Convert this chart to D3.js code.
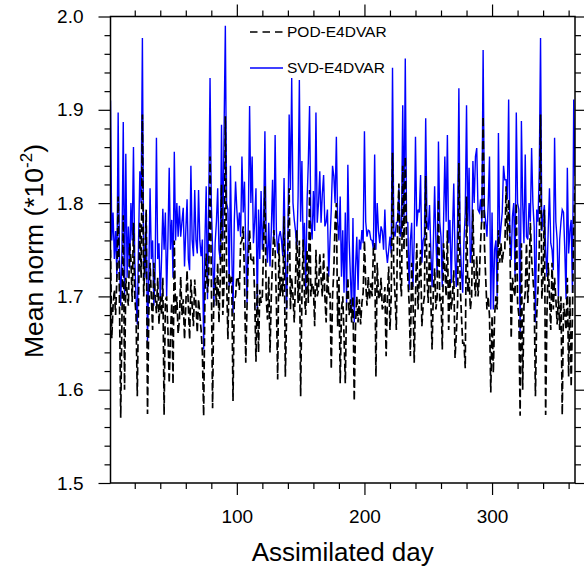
<!DOCTYPE html>
<html><head><meta charset="utf-8">
<script src="https://cdn.jsdelivr.net/npm/d3@7"></script>
<style>body{margin:0;background:#fff}svg{display:block}text{font-family:"Liberation Sans",Arial,Helvetica,sans-serif}</style>
</head><body>
<svg id="c" width="584" height="570"></svg>
<script>
const xTicksMajor = [100, 200, 300];
const yTicksMajor = [1.5, 1.6, 1.7, 1.8, 1.9, 2.0];
const seriesNames = ["POD-E4DVAR", "SVD-E4DVAR"];
const svd = [
1.91,1.76,1.79,1.74,1.77,1.72,1.897,1.74,1.69,1.75,1.887,1.70,1.853,1.72,1.775,1.73,1.80,1.76,1.86,1.74,
1.70,1.67,1.76,1.834,1.80,1.977,1.74,1.72,1.79,1.652,1.72,1.816,1.74,1.76,1.69,1.73,1.87,1.74,1.757,1.696,
1.74,1.794,1.75,1.79,1.70,1.76,1.838,1.75,1.782,1.72,1.855,1.76,1.80,1.764,1.797,1.764,1.78,1.795,1.732,1.77,
1.804,1.74,1.728,1.84,1.76,1.743,1.814,1.76,1.746,1.814,1.76,1.743,1.761,1.643,1.76,1.818,1.697,1.80,1.934,1.80,
1.75,1.69,1.757,1.78,1.816,1.75,1.739,1.884,1.76,1.879,1.99,1.80,1.793,1.71,1.84,1.75,1.682,1.78,1.823,1.793,
1.77,1.79,1.764,1.85,1.79,1.823,1.75,1.693,1.78,1.904,1.80,1.85,1.757,1.78,1.816,1.686,1.793,1.74,1.813,1.75,
1.78,1.877,1.76,1.736,1.779,1.732,1.77,1.825,1.757,1.873,1.77,1.746,1.764,1.77,1.76,1.743,1.827,1.74,1.686,1.757,
1.895,1.814,1.934,1.80,1.782,1.77,1.75,1.807,1.932,1.78,1.845,1.75,1.779,1.707,1.80,1.843,1.904,1.78,1.761,1.813,
1.77,1.897,1.779,1.80,1.834,1.779,1.81,1.83,1.775,1.78,1.793,1.721,1.76,1.793,1.84,1.829,1.80,1.871,1.779,1.76,
1.807,1.721,1.771,1.704,1.79,1.693,1.841,1.76,1.721,1.686,1.784,1.672,1.73,1.764,1.707,1.761,1.75,1.771,1.757,1.877,
1.78,1.764,1.771,1.77,1.761,1.76,1.75,1.852,1.75,1.80,1.77,1.757,1.775,1.77,1.75,1.793,1.75,1.736,1.75,1.764,
1.746,1.945,1.77,1.764,1.779,1.78,1.816,1.764,1.77,1.905,1.78,1.955,1.78,1.779,1.707,1.76,1.779,1.71,1.76,1.871,
1.775,1.793,1.79,1.83,1.736,1.76,1.764,1.891,1.78,1.771,1.798,1.75,1.71,1.757,1.818,1.76,1.721,1.866,1.78,1.764,
1.71,1.78,1.85,1.78,1.873,1.757,1.782,1.714,1.77,1.821,1.739,1.71,1.78,1.923,1.76,1.728,1.704,1.76,1.79,1.905,
1.775,1.838,1.736,1.75,1.845,1.80,1.85,1.859,1.793,1.79,1.804,1.779,1.964,1.793,1.78,1.764,1.80,1.85,1.686,1.79,
1.686,1.75,1.76,1.70,1.875,1.757,1.775,1.79,1.84,1.825,1.825,1.804,1.911,1.76,1.739,1.786,1.80,1.721,1.897,1.80,
1.793,1.657,1.888,1.80,1.757,1.852,1.764,1.761,1.80,1.78,1.859,1.80,1.775,1.672,1.793,1.78,1.834,1.977,1.77,1.786,
1.798,1.75,1.721,1.77,1.816,1.757,1.75,1.728,1.87,1.78,1.761,1.70,1.761,1.78,1.793,1.79,1.75,1.697,1.838,1.746,
1.77,1.782,1.704,1.911,1.829];
const pod = [
1.75,1.655,1.69,1.707,1.68,1.72,1.807,1.70,1.57,1.68,1.787,1.60,1.72,1.704,1.69,1.757,1.74,1.694,1.779,1.70,
1.68,1.593,1.70,1.779,1.72,1.895,1.70,1.74,1.793,1.574,1.68,1.736,1.70,1.664,1.736,1.70,1.682,1.72,1.67,1.70,
1.68,1.72,1.573,1.696,1.70,1.664,1.607,1.66,1.693,1.606,1.76,1.68,1.70,1.66,1.675,1.721,1.68,1.697,1.654,1.69,
1.728,1.69,1.654,1.718,1.69,1.668,1.718,1.69,1.661,1.697,1.68,1.664,1.64,1.572,1.70,1.746,1.704,1.72,1.85,1.721,
1.58,1.71,1.72,1.69,1.736,1.672,1.72,1.82,1.68,1.714,1.893,1.72,1.654,1.725,1.714,1.721,1.588,1.697,1.70,1.721,
1.72,1.707,1.757,1.76,1.775,1.721,1.629,1.69,1.743,1.771,1.74,1.739,1.743,1.70,1.63,1.714,1.64,1.707,1.693,1.70,
1.757,1.818,1.70,1.675,1.721,1.64,1.70,1.739,1.771,1.75,1.693,1.611,1.757,1.70,1.721,1.70,1.786,1.614,1.68,1.75,
1.816,1.686,1.72,1.70,1.672,1.72,1.771,1.693,1.76,1.593,1.70,1.761,1.70,1.68,1.75,1.693,1.814,1.70,1.714,1.71,
1.668,1.75,1.70,1.707,1.746,1.72,1.70,1.746,1.70,1.672,1.732,1.70,1.704,1.622,1.70,1.728,1.78,1.80,1.668,1.721,
1.607,1.686,1.70,1.657,1.607,1.693,1.72,1.68,1.697,1.672,1.70,1.588,1.668,1.70,1.672,1.697,1.67,1.693,1.704,1.76,
1.714,1.69,1.721,1.697,1.714,1.70,1.75,1.757,1.614,1.736,1.70,1.697,1.72,1.686,1.69,1.71,1.636,1.70,1.732,1.664,
1.70,1.854,1.728,1.70,1.664,1.78,1.821,1.721,1.70,1.84,1.75,1.85,1.757,1.72,1.693,1.636,1.736,1.70,1.629,1.70,
1.757,1.686,1.72,1.75,1.668,1.69,1.70,1.829,1.72,1.693,1.757,1.70,1.643,1.707,1.73,1.686,1.70,1.804,1.693,1.70,
1.643,1.757,1.73,1.70,1.771,1.664,1.72,1.686,1.70,1.728,1.634,1.66,1.693,1.843,1.714,1.68,1.65,1.65,1.623,1.807,
1.704,1.72,1.686,1.70,1.793,1.721,1.70,1.743,1.70,1.72,1.757,1.786,1.893,1.757,1.72,1.686,1.70,1.679,1.597,1.679,
1.618,1.68,1.70,1.686,1.771,1.736,1.757,1.736,1.75,1.75,1.818,1.76,1.804,1.761,1.655,1.72,1.707,1.70,1.80,1.693,
1.68,1.572,1.757,1.60,1.69,1.704,1.757,1.693,1.72,1.779,1.74,1.721,1.70,1.593,1.68,1.707,1.75,1.895,1.697,1.72,
1.793,1.573,1.68,1.736,1.70,1.664,1.736,1.686,1.72,1.697,1.67,1.70,1.664,1.70,1.573,1.693,1.68,1.664,1.72,1.614,
1.70,1.603,1.68,1.779,1.818];

const svg = d3.select("#c");
const L = 110.5, R = 575, T = 16.5, B = 483;
const x = d3.scaleLinear().domain([1, 365]).range([L, R]);
const y = d3.scaleLinear().domain([1.5, 2.0]).range([B, T]);
const xMinor = d3.range(20, 365, 20).filter(v => xTicksMajor.indexOf(v) < 0);
const yMinor = d3.range(1.5, 2.0001, 0.02).map(v => +v.toFixed(2)).filter(v => yTicksMajor.every(m => Math.abs(m - v) > 1e-6));

function ax(g, axis) { g.call(axis); g.select(".domain").remove(); g.selectAll("line").attr("stroke", "#000").attr("stroke-width", 1.2); return g; }

// bottom
ax(svg.append("g").attr("transform", `translate(0,${B})`), d3.axisBottom(x).tickValues(xTicksMajor).tickSize(12).tickPadding(15))
  .selectAll("text").attr("font-size", 19).attr("fill", "#000");
ax(svg.append("g").attr("transform", `translate(0,${B})`), d3.axisBottom(x).tickValues(xMinor).tickSize(6).tickFormat(""));
// top
ax(svg.append("g").attr("transform", `translate(0,${T})`), d3.axisTop(x).tickValues(xTicksMajor).tickSize(12).tickFormat(""));
ax(svg.append("g").attr("transform", `translate(0,${T})`), d3.axisTop(x).tickValues(xMinor).tickSize(6).tickFormat(""));
// left
ax(svg.append("g").attr("transform", `translate(${L},0)`), d3.axisLeft(y).tickValues(yTicksMajor).tickSize(12).tickPadding(15).tickFormat(d3.format(".1f")))
  .selectAll("text").attr("font-size", 19).attr("fill", "#000");
ax(svg.append("g").attr("transform", `translate(${L},0)`), d3.axisLeft(y).tickValues(yMinor).tickSize(6).tickFormat(""));
// right
ax(svg.append("g").attr("transform", `translate(${R},0)`), d3.axisRight(y).tickValues(yTicksMajor).tickSize(12).tickFormat(""));
ax(svg.append("g").attr("transform", `translate(${R},0)`), d3.axisRight(y).tickValues(yMinor).tickSize(6).tickFormat(""));

const days = d3.range(1, 366);
const line = d3.line().x((d, i) => x(days[i])).y(d => y(d));
svg.append("clipPath").attr("id", "pc").append("rect").attr("x", L).attr("y", T).attr("width", R - L).attr("height", B - T);

svg.append("path").datum(svd).attr("d", line).attr("fill", "none").attr("stroke", "#0000ff").attr("stroke-width", 1.4).attr("clip-path", "url(#pc)");
svg.append("path").datum(pod).attr("d", line).attr("fill", "none").attr("stroke", "#000").attr("stroke-width", 1.7).attr("stroke-dasharray", "8,3.5").attr("clip-path", "url(#pc)");

svg.append("rect").attr("x", L).attr("y", T).attr("width", R - L).attr("height", B - T).attr("fill", "none").attr("stroke", "#000").attr("stroke-width", 1.5);

// legend
const leg = [{ n: seriesNames[0], c: "#000", dash: "7.5,5", yy: 32, w: 1.3 }, { n: seriesNames[1], c: "#0000ff", dash: null, yy: 68, w: 1.3 }];
leg.forEach(l => {
  svg.append("line").attr("x1", 250).attr("x2", 283).attr("y1", l.yy).attr("y2", l.yy).attr("stroke", l.c).attr("stroke-width", l.w).attr("stroke-dasharray", l.dash);
  svg.append("text").attr("x", 287).attr("y", l.yy).attr("dy", "0.35em").attr("font-size", 15.5).text(l.n);
});

// titles
svg.append("text").attr("x", (L + R) / 2).attr("y", 561).attr("text-anchor", "middle").attr("font-size", 26).text("Assimilated day");
const yt = svg.append("text").attr("transform", `translate(43,251) rotate(-90)`).attr("text-anchor", "middle").attr("font-size", 26.5);
yt.append("tspan").text("Mean norm (*10");
yt.append("tspan").attr("dy", -11).attr("font-size", 17).text("-2");
yt.append("tspan").attr("dy", 11).text(")");
</script>
</body></html>
